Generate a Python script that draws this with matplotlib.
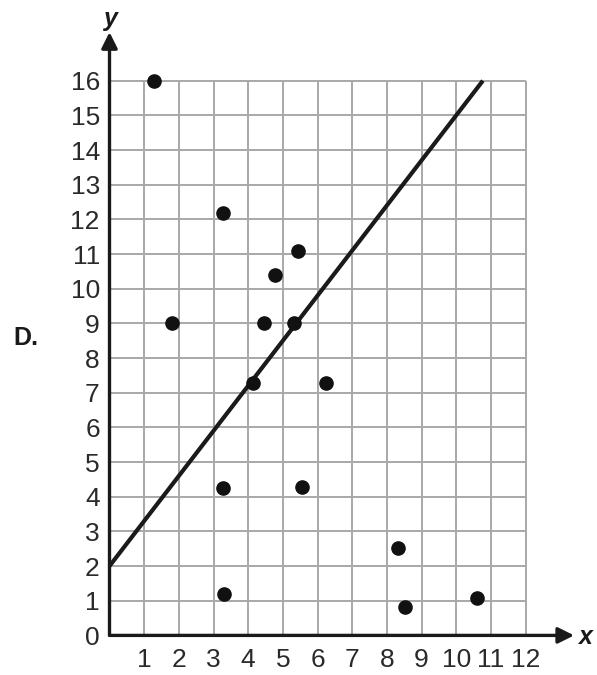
import matplotlib
matplotlib.use("Agg")
import matplotlib.pyplot as plt

plt.rcParams['font.family'] = ['Liberation Sans', 'DejaVu Sans']

# scatter data
x_pts = [1.27, 1.80, 3.27, 4.78, 4.46, 5.32, 5.45, 4.13, 3.26, 3.31, 5.54, 6.25, 8.31, 8.53, 10.6]
y_pts = [16.0, 9.0, 12.17, 10.39, 9.0, 9.0, 11.1, 7.27, 4.26, 1.19, 4.27, 7.27, 2.51, 0.82, 1.07]

# trend line y = 1.3x + 2, drawn up to the top of the grid
line_x = [0, 14 / 1.3]
line_y = [2, 16]

x_ticks = list(range(1, 13))
y_ticks = list(range(0, 17))

W, H = 597, 675
fig = plt.figure(figsize=(W / 100, H / 100), dpi=100)
u = 34.67  # pixels per unit
x0, y0 = 109.5, 635.4
xmax, ymax = 13.4, 17.4
ax = fig.add_axes([x0 / W, (H - y0) / H, xmax * u / W, ymax * u / H])
ax.set_xlim(0, xmax)
ax.set_ylim(0, ymax)
for s in ax.spines.values():
    s.set_visible(False)

grid_c = '#a8a8a8'
ax.vlines(x_ticks, 0, 16, color=grid_c, lw=1.4, zorder=1)
ax.hlines(y_ticks[1:], 0, 12, color=grid_c, lw=1.4, zorder=1)

# axes with arrows
ax.annotate('', xy=(xmax, 0), xytext=(0, 0),
            arrowprops=dict(arrowstyle='-|>', color='#1a1a1a', lw=2.4,
                            mutation_scale=24, shrinkA=0, shrinkB=0),
            annotation_clip=False, zorder=3)
ax.annotate('', xy=(0, ymax), xytext=(0, 0),
            arrowprops=dict(arrowstyle='-|>', color='#1a1a1a', lw=2.4,
                            mutation_scale=24, shrinkA=0, shrinkB=0),
            annotation_clip=False, zorder=3)

ax.plot(line_x, line_y, color='#1a1a1a', lw=3, solid_capstyle='butt', zorder=4, clip_on=False)
ax.plot(x_pts, y_pts, 'o', color='#111111', ms=9.5, zorder=5, clip_on=False)

ax.set_xticks(x_ticks)
ax.set_xticklabels([str(v) for v in x_ticks])
ax.set_yticks(y_ticks)
ax.set_yticklabels([str(v) for v in y_ticks])
ax.tick_params(length=0, labelsize=19, colors='#2a2a2a')
ax.tick_params(axis='x', pad=9)
ax.tick_params(axis='y', pad=7)

fig.text(585 / W, 1 - 637 / H, 'x', fontsize=18, fontweight='bold', style='italic',
         ha='center', va='center', color='#1a1a1a')
fig.text(110 / W, 1 - 19 / H, 'y', fontsize=18, fontweight='bold', style='italic',
         ha='center', va='center', color='#1a1a1a')
fig.text(26 / W, 1 - 338 / H, 'D.', fontsize=18, fontweight='bold',
         ha='center', va='center', color='#1a1a1a')

fig.savefig('out.png', dpi=100)
